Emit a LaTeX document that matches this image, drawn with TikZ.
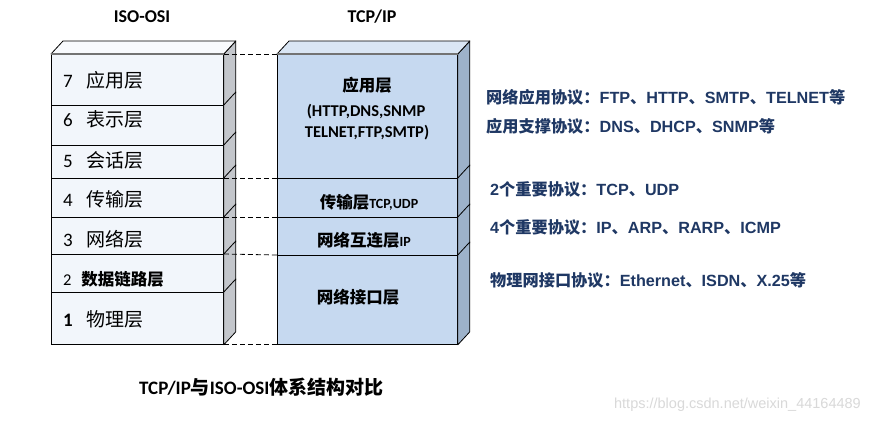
\documentclass[tikz,border=0pt]{standalone}
\usepackage{fontspec}
\setmainfont{Carlito}
\newfontfamily\cjk{Noto Sans CJK SC}
\newfontfamily\arial{Liberation Sans}
\usetikzlibrary{calc}
\definecolor{lfront}{HTML}{F2F6FB}
\definecolor{ltop}{HTML}{F8FAFD}
\definecolor{lside}{HTML}{C3C6CB}
\definecolor{rfront}{HTML}{C6D9F0}
\definecolor{rtop}{HTML}{DAE6F4}
\definecolor{rside}{HTML}{9DB2CA}
\definecolor{anno}{HTML}{1F3864}
\definecolor{wm}{HTML}{D9D9D9}
\newcommand{\C}[1]{{\cjk #1}}
\newcommand{\fs}[1]{\fontsize{#1}{#1}\selectfont}
\begin{document}
\begin{tikzpicture}[x=1pt,y=-1pt,
  lrow/.style={draw=black, line width=0.8pt, fill=lfront, minimum width=172pt, inner sep=0pt, anchor=north west},
  rrow/.style={draw=black, line width=0.8pt, fill=rfront, minimum width=180pt, inner sep=0pt, anchor=north west},
  ltxt/.style={anchor=west, inner sep=0pt, font=\fs{19}},
  rtxt/.style={anchor=center, inner sep=0pt, font=\bfseries\fs{16.5}},
  annotxt/.style={anchor=west, inner sep=0pt, text=anno, font=\arial\bfseries\fs{16.2}},
  title/.style={anchor=center, inner sep=0pt, font=\bfseries\fs{18}},
  sideL/.style={fill=lside, draw=black, line width=0.8pt, line join=round},
  sideR/.style={fill=rside, draw=black, line width=0.8pt, line join=round},
  topL/.style={fill=ltop, draw=black, line width=0.8pt, line join=round},
  topR/.style={fill=rtop, draw=black, line width=0.8pt, line join=round},
  conn/.style={dashed, line width=0.8pt, dash pattern=on 5pt off 3pt},
  edge/.style={draw=gray!90!black, line width=1.8pt}
]
\useasboundingbox (0,0) rectangle (869,424);
\fill[white] (0,0) rectangle (869,424);

% titles
\node[title] (tiso) at (142,17) {ISO-OSI};
\node[title] (ttcp) at (372,17) {TCP/IP};

% left stack (ISO-OSI)
\node[lrow, minimum height=51pt] (l7) at (51,54) {};
\node[lrow, minimum height=40pt] (l6) at (51,105) {};
\node[lrow, minimum height=33pt] (l5) at (51,145) {};
\node[lrow, minimum height=39pt] (l4) at (51,178) {};
\node[lrow, minimum height=37pt] (l3) at (51,217) {};
\node[lrow, minimum height=38pt] (l2) at (51,254) {};
\node[lrow, minimum height=52pt] (l1) at (51,292) {};
\foreach \r in {l7,l6,l5,l4,l3,l2,l1}{
  \draw[sideL] (\r.north east) -- ++(12,-13) -- ($(\r.south east)+(12,-13)$) -- (\r.south east) -- cycle;
}
\draw[topL] (l7.north west) -- ++(12,-13) -- ($(l7.north east)+(12,-13)$) -- (l7.north east) -- cycle;
\draw[edge] (l7.north west) -- (l7.north east);

% right stack (TCP/IP)
\node[rrow, minimum height=124pt] (r4) at (277,54) {};
\node[rrow, minimum height=39pt] (r3) at (277,178) {};
\node[rrow, minimum height=38pt] (r2) at (277,217) {};
\node[rrow, minimum height=89pt] (r1) at (277,255) {};
\foreach \r in {r4,r3,r2,r1}{
  \draw[sideR] (\r.north east) -- ++(12,-13) -- ($(\r.south east)+(12,-13)$) -- (\r.south east) -- cycle;
}
\draw[topR] (r4.north west) -- ++(12,-13) -- ($(r4.north east)+(12,-13)$) -- (r4.north east) -- cycle;
\draw[edge] (r4.north west) -- (r4.north east);

% dashed connectors
\draw[conn] (l7.north east) -- (r4.north west);
\draw[conn] (l4.north east) -- (r3.north west);
\draw[conn] (l3.north east) -- (r2.north west);
\draw[conn] (l2.north east) -- (r1.north west);
\draw[conn] (l1.south east) -- (r1.south west);

% left labels
\node[ltxt] (t7) at (63,80) {7\hspace{0.7em}\C{应用层}};
\node[ltxt] (t6) at (63,119) {6\hspace{0.7em}\C{表示层}};
\node[ltxt] (t5) at (63,160) {5\hspace{0.7em}\C{会话层}};
\node[ltxt] (t4) at (63,199) {4\hspace{0.7em}\C{传输层}};
\node[ltxt] (t3) at (63,239) {3\hspace{0.7em}\C{网络层}};
\node[ltxt, font=\fs{16.5}] (t2) at (63,279) {2\hspace{0.6em}{\bfseries\C{数据链路层}}};
\node[ltxt] (t1) at (63,319) {\textbf{1}\hspace{0.7em}\C{物理层}};

% right labels
\node[rtxt] (ra) at (367,85) {\C{应用层}};
\node[rtxt] (rb) at (366,112) {(HTTP,DNS,SNMP};
\node[rtxt] (rc) at (367,133) {TELNET,FTP,SMTP)};
\node[rtxt] (rd) at (369,202) {\C{传输层}{\fs{14}TCP,UDP}};
\node[rtxt] (re) at (364,240) {\C{网络互连层}{\fs{14}IP}};
\node[rtxt] (rf) at (358,297) {\C{网络接口层}};

% annotations
\node[annotxt] (a1) at (486,97) {\C{网络应用协议：}FTP\C{、}HTTP\C{、}SMTP\C{、}TELNET\C{等}};
\node[annotxt] (a2) at (486,126) {\C{应用支撑协议：}DNS\C{、}DHCP\C{、}SNMP\C{等}};
\node[annotxt] (a3) at (490,189) {2\C{个重要协议：}TCP\C{、}UDP};
\node[annotxt] (a4) at (490,227) {4\C{个重要协议：}IP\C{、}ARP\C{、}RARP\C{、}ICMP};
\node[annotxt] (a5) at (490,280) {\C{物理网接口协议：}Ethernet\C{、}ISDN\C{、}X.25\C{等}};

% caption
\node[anchor=west, inner sep=0pt, font=\bfseries\fs{19}] (cap) at (139,387) {TCP/IP\C{与}ISO-OSI\C{体系结构对比}};

% watermark
\node[anchor=east, inner sep=0pt, text=wm, font=\arial\fs{14.5}] (wmk) at (861,405) {https://blog.csdn.net/weixin\_44164489};
\end{tikzpicture}
\end{document}
